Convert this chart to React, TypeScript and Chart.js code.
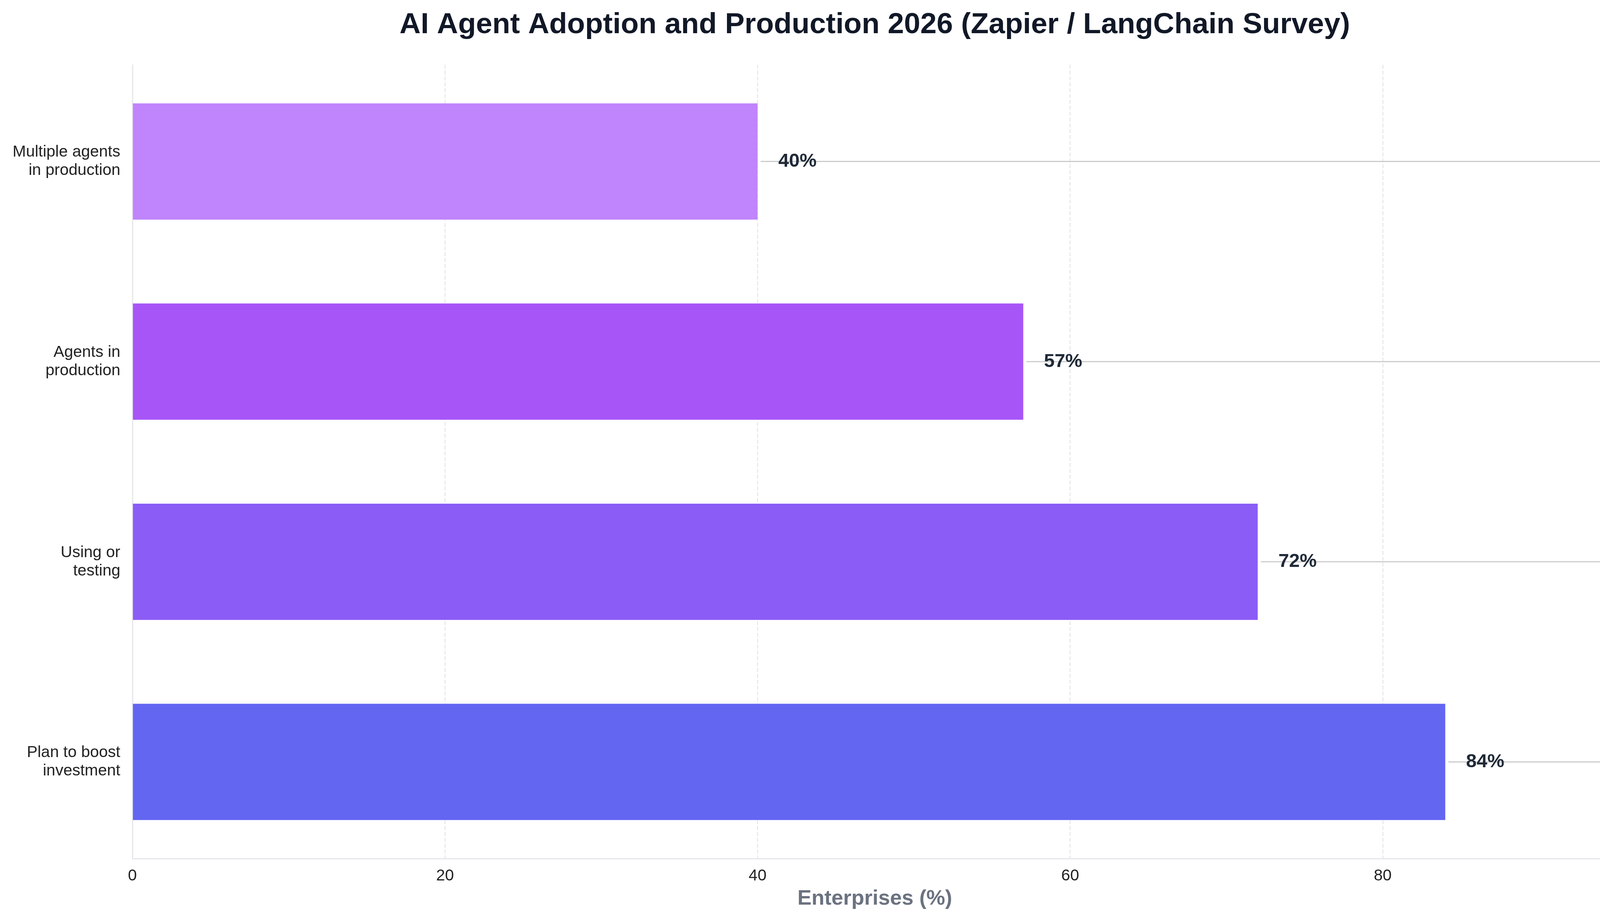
import { useEffect, useRef } from 'react';
import Chart from 'chart.js/auto';

// survey data
const categories: string[][] = [
    ['Multiple agents', 'in production'],
    ['Agents in', 'production'],
    ['Using or', 'testing'],
    ['Plan to boost', 'investment'],
];
const values: number[] = [40, 57, 72, 84];
const barColors: string[] = ['#c084fc', '#a855f7', '#8b5cf6', '#6366f1'];
const xMax = 95;
const xStep = 20;

const chartTitle = 'AI Agent Adoption and Production 2026 (Zapier / LangChain Survey)';
const xTitle = 'Enterprises (%)';

const FONT = '"Liberation Sans", Arial, Helvetica, sans-serif';
const W = 4169;
const H = 2364;

// draws the title centred over the plot, plus the guide line and % label for each bar
const overlayPlugin = {
    id: 'overlay',
    afterDatasetsDraw(chart: any) {
        const { ctx, chartArea, scales } = chart;
        const meta = chart.getDatasetMeta(0);
        ctx.save();
        meta.data.forEach((bar: any, i: number) => {
            const xEnd = scales.x.getPixelForValue(values[i]);
            ctx.strokeStyle = '#cccccc';
            ctx.lineWidth = 3;
            ctx.beginPath();
            ctx.moveTo(xEnd + 8, bar.y);
            ctx.lineTo(chartArea.right, bar.y);
            ctx.stroke();

            ctx.font = `bold 49px ${FONT}`;
            ctx.fillStyle = '#1f2937';
            ctx.textAlign = 'left';
            ctx.textBaseline = 'middle';
            ctx.fillText(`${values[i]}%`, xEnd + 53, bar.y);
        });
        ctx.restore();
    },
    afterDraw(chart: any) {
        const { ctx, chartArea } = chart;
        ctx.save();
        ctx.font = `bold 75px ${FONT}`;
        ctx.fillStyle = '#111827';
        ctx.textAlign = 'center';
        ctx.textBaseline = 'alphabetic';
        ctx.fillText(chartTitle, (chartArea.left + chartArea.right) / 2, 85);
        ctx.restore();
    },
};

export default function App() {
    const canvasRef = useRef<HTMLCanvasElement | null>(null);
    const chartInstance = useRef<Chart | null>(null);

    useEffect(() => {
        if (!canvasRef.current) return;
        const ctx = canvasRef.current.getContext('2d');
        if (!ctx) return;
        if (chartInstance.current) chartInstance.current.destroy();

        chartInstance.current = new Chart(ctx, {
            type: 'bar',
            data: {
                datasets: [{
                    data: values.map((v, i) => ({ x: v, y: i })),
                    backgroundColor: barColors,
                    borderWidth: 0,
                    barPercentage: 0.581,
                    categoryPercentage: 1,
                }],
            },
            options: {
                indexAxis: 'y',
                animation: false,
                responsive: false,
                devicePixelRatio: 1,
                events: [],
                layout: { padding: { top: 166, right: 29, left: 0, bottom: 0 } },
                plugins: {
                    legend: { display: false },
                    tooltip: { enabled: false },
                    title: { display: false },
                },
                scales: {
                    x: {
                        type: 'linear',
                        min: 0,
                        max: xMax,
                        afterFit: (scale: any) => { scale.height = H - 2199; },
                        ticks: {
                            stepSize: xStep,
                            includeBounds: false,
                            color: '#222222',
                            padding: 20,
                            font: { family: FONT, size: 41 },
                        },
                        grid: {
                            display: true,
                            drawTicks: false,
                            color: 'rgba(220,220,224,0.7)',
                            lineWidth: 2.5,
                        },
                        border: {
                            display: true,
                            color: '#e5e7eb',
                            width: 3,
                            dash: [10, 5],
                        },
                        title: {
                            display: true,
                            text: xTitle,
                            color: '#6b7280',
                            font: { family: FONT, size: 54, weight: 'bold' },
                            padding: { top: 0, bottom: 29 },
                        },
                    },
                    y: {
                        type: 'linear',
                        offset: false,
                        reverse: true,
                        min: -0.483,
                        max: categories.length - 1 + 0.483,
                        afterFit: (scale: any) => { scale.width = 339; },
                        afterBuildTicks: (scale: any) => {
                            scale.ticks = categories.map((_, i) => ({ value: i }));
                        },
                        ticks: {
                            color: '#222222',
                            padding: 31,
                            font: { family: FONT, size: 41, lineHeight: 1.15 },
                            callback: (value: any) => categories[value as number],
                        },
                        grid: { display: false, drawTicks: false },
                        border: { display: true, color: '#e5e7eb', width: 3 },
                    },
                },
            },
            plugins: [overlayPlugin],
        });

        return () => {
            if (chartInstance.current) {
                chartInstance.current.destroy();
                chartInstance.current = null;
            }
        };
    }, []);

    return (
        <div style={{ position: 'absolute', left: 0, top: 0, width: W, height: H, background: '#ffffff' }}>
            <canvas ref={canvasRef} width={W} height={H} style={{ width: W, height: H }}></canvas>
        </div>
    );
}
